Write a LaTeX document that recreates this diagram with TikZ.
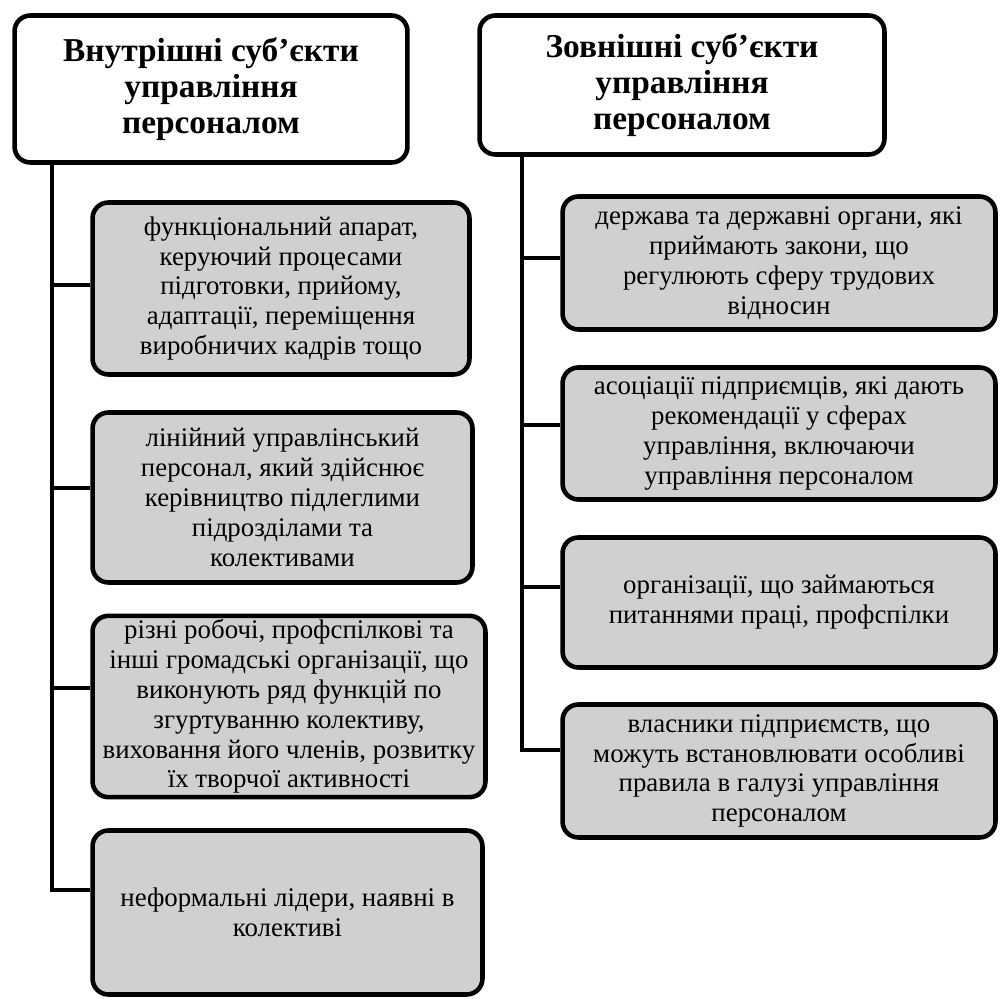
\documentclass[tikz,border=0pt]{standalone}
\usepackage{fontspec}
\setmainfont{Liberation Serif}
\definecolor{boxgray}{RGB}{208,208,208}
\tikzset{
	head/.style={draw,line width=2.6pt,rounded corners=9pt,fill=white,align=center,
		font=\fontsize{19}{20.6}\selectfont\bfseries,inner sep=2pt},
	item/.style={draw,line width=2.6pt,rounded corners=9pt,fill=boxgray,align=center,
		font=\fontsize{15.3}{17}\selectfont,inner sep=2pt},
	link/.style={line width=2.6pt}
}
\begin{document}
\begin{tikzpicture}[x=0.02cm,y=-0.02cm]
		\useasboundingbox (0,0) rectangle (1001,999);
		% headers
		\node [head,minimum width=7.86cm,minimum height=2.94cm] (hdrL) at (211,89)
			{Внутрішні суб’єкти\\управління\\персоналом};
		\node [head,minimum width=8.10cm,minimum height=2.78cm] (hdrR) at (682,85)
			{Зовнішні суб’єкти\\управління\\персоналом};
		% internal subjects
		\node [item,minimum width=7.54cm,minimum height=3.44cm] (L1) at (281,288.5)
			{функціональний апарат,\\керуючий процесами\\підготовки, прийому,\\адаптації, переміщення\\виробничих кадрів тощо};
		\node [item,minimum width=7.60cm,minimum height=3.40cm] (L2) at (282.5,497.5)
			{лінійний управлінський\\персонал, який здійснює\\керівництво підлеглими\\підрозділами та\\колективами};
		\node [item,minimum width=7.86cm,minimum height=3.44cm] (L3) at (289,706.5)
			{різні робочі, профспілкові та\\інші громадські організації, що\\виконують ряд функцій по\\згуртуванню колективу,\\виховання його членів, розвитку\\їх творчої активності};
		\node [item,minimum width=7.80cm,minimum height=3.28cm] (L4) at (287.5,912.5)
			{неформальні лідери, наявні в\\колективі};
		% external subjects
		\node [item,minimum width=8.66cm,minimum height=2.66cm] (R1) at (779,263)
			{держава та державні органи, які\\приймають закони, що\\регулюють сферу трудових\\відносин};
		\node [item,minimum width=8.66cm,minimum height=2.64cm] (R2) at (779,433.5)
			{асоціації підприємців, які дають\\рекомендації у сферах\\управління, включаючи\\управління персоналом};
		\node [item,minimum width=8.66cm,minimum height=2.60cm] (R3) at (779,602.5)
			{організації, що займаються\\питаннями праці, профспілки};
		\node [item,minimum width=8.66cm,minimum height=2.66cm] (R4) at (779,771)
			{власники підприємств, що\\можуть встановлювати особливі\\правила в галузі управління\\персоналом};
		% trunks and branches
		\coordinate (xL) at (52,0);
		\coordinate (xR) at (522,0);
		\foreach \b/\s in {L1/0.07,L2/0.19,L3/0.37,L4/0.45}
			\draw [link] (hdrL.south -| xL) |- ([yshift=\s cm]\b.west);
		\foreach \b/\s in {R1/0.10,R2/0.17,R3/0.31,R4/0.42}
			\draw [link] (hdrR.south -| xR) |- ([yshift=\s cm]\b.west);
\end{tikzpicture}
\end{document}
